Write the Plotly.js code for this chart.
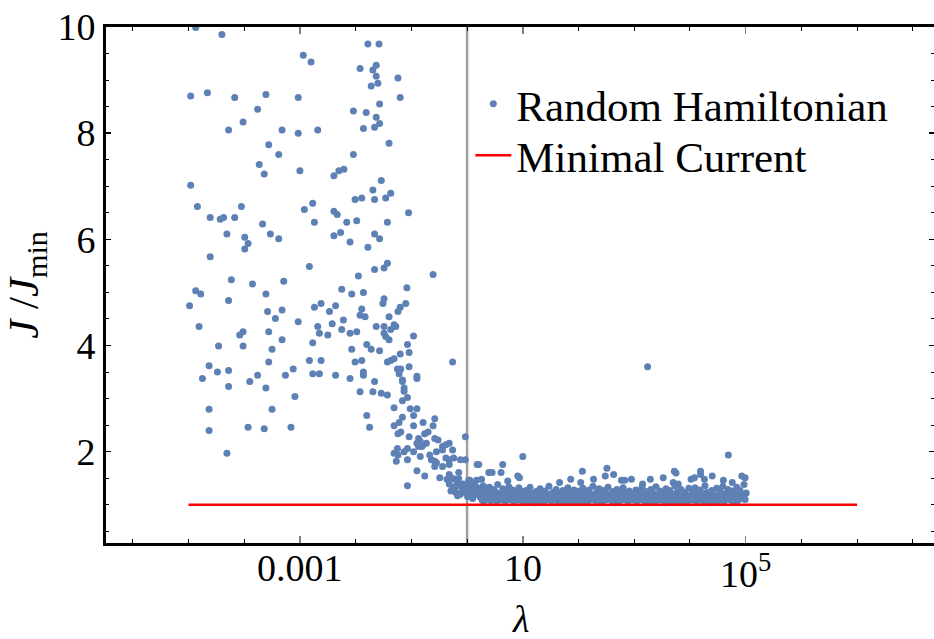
<!DOCTYPE html>
<html><head><meta charset="utf-8">
<script src="https://cdn.plot.ly/plotly-3.0.1.min.js"></script>
<style>html,body{margin:0;padding:0;background:#fff}#chart{width:934px;height:639px}</style>
</head><body><div id="chart"></div>
<script>
// ---- data (log10 of lambda, and J/Jmin) ----
const scatteredLog10Lambda = [-4.87,-4.40,-4.96,-4.66,-4.17,-3.61,-3.76,-4.02,-4.28,-3.32,-3.56,-3.38,-3.73,-3.64,-4.96,-4.84,-4.05,-4.61,-4.43,-4.37,-4.17,-3.67,-4.31,-3.53,-3.99,-3.38,-3.93,-3.99,
 -4.61,-4.23,-3.85,-3.29,-4.87,-4.78,-3.61,-4.28,-4.98,-3.58,-3.32,-3.44,-4.81,-4.02,-4.08,-3.56,-3.32,-4.46,-4.02,-3.50,-3.56,-4.63,-4.48,-4.28,-4.75,-3.76,-3.26,-3.90,-4.28,-3.61,-4.63,-3.50,-4.63,-3.93,-3.64,-3.16,-4.31];
const scatteredRatio = [9.99,9.86,8.70,8.76,8.67,8.73,8.45,8.21,8.06,8.06,7.78,7.60,7.41,7.23,7.02,6.62,6.62,6.41,6.38,6.41,6.41,6.29,6.10,6.10,6.04,6.01,5.92,5.82,
 5.67,5.24,5.16,5.21,5.03,4.97,4.97,4.85,4.75,4.64,4.67,4.51,4.36,4.26,4.20,4.26,4.11,3.99,3.99,3.93,3.69,3.62,3.50,3.53,3.38,3.44,3.44,3.32,3.23,3.20,2.80,2.80,2.40,2.46,2.43,2.46,1.97];

const midLog10Lambda = [-1.78,-1.58,-2.94,-2.80,-1.63,-1.69,-1.92,-1.63,-1.24,-1.60,-1.72,-3.03,-1.20,-2.04,-1.81,-1.57,-1.63,-1.57,-1.66,-1.86,-3.03,-2.68,-1.40,-2.04,-3.00,-2.39,-2.30,-2.21,-1.54,-1.69,-1.37,-2.01,-1.89,-1.66,-1.46,-2.77,-2.92,-2.39,-2.33,-2.74,-2.16,-1.98,-1.43,-2.27,-2.39,-1.66,-1.57,-2.10,-1.78,
 -1.05,-1.08,-0.61,
 -2.83,-1.43,-1.49,-1.66,-1.95,-2.25,-2.07,-1.86,-1.49,-1.51,-2.62,-2.74,-2.36,-2.47,-1.89,-1.92,-1.83,-1.20,-1.24,-1.40,-3.03,-2.22,-2.42,-2.68,-1.63,-1.49,-1.31,-1.28,-2.65,-2.50,-2.25,-2.10,-1.98,-1.37,-1.49,-1.46,-1.40,-2.77,-1.80,-2.07,-1.72,-1.57,-1.20,-2.83,-2.62,-1.89,-2.01,-1.43,-1.37,-1.31,-3.12,-2.77,-2.65,-2.36,-2.10,-1.86,-1.86,-1.25,-1.22,-1.66,-3.09,-1.92,-1.69,-1.54,-1.43,-1.31,-1.80,-1.75,-1.31,-1.22,-1.24,-1.25,-1.31,-1.24,-1.27];
const midRatio = [9.68,9.68,9.47,9.34,9.28,9.19,9.22,9.07,9.04,8.94,8.89,8.67,8.67,8.42,8.39,8.55,8.30,8.18,8.11,8.09,8.00,8.06,7.81,7.60,7.29,7.20,7.29,7.32,7.11,6.93,6.87,6.75,6.78,6.75,6.78,6.68,6.56,6.53,6.47,6.32,6.32,6.35,6.32,6.13,6.07,6.10,6.01,5.95,5.85,
 6.50,5.09,5.34,
 5.49,5.55,5.46,5.43,5.31,5.06,4.97,5.00,4.88,4.79,4.79,4.72,4.75,4.64,4.69,4.57,4.54,4.72,4.64,4.54,4.45,4.48,4.41,4.36,4.36,4.36,4.39,4.36,4.23,4.20,4.30,4.23,4.26,4.30,4.23,4.17,4.11,4.05,4.02,3.93,3.93,3.90,3.84,3.72,3.72,3.72,3.69,3.69,3.72,3.75,3.56,3.47,3.47,3.44,3.38,3.50,3.44,3.56,3.47,3.32,3.04,3.13,3.13,3.10,3.07,2.83,2.68,2.46,2.49,2.55,2.34,2.06,1.97,1.94,1.82];

const transitionLog10Lambda = [-1.10,-0.96,-1.07,-1.04,-0.26,-1.19,-1.04,-0.90,-0.90,-1.16,-1.16,-1.13,-1.13,-1.07,-1.16,-1.02,-0.90,-0.96,-1.16,-0.58,-0.79,-0.96,-0.61,-1.19,-0.70,-0.76,-1.04,-0.58,-0.52,-0.87,-0.84,-0.90,-0.79,-0.87,-0.81,-1.07,-0.73,-0.44,-0.38,-0.32,-1.13,-0.96,-0.67,-0.55,-0.44,-0.26,-0.03,-1.07,-0.84,-0.64,-0.58,-0.55,-0.38,-0.32,-0.24,-0.12,-0.03,-0.58,-0.44,-0.32,-0.90,-0.76,-0.15,-0.32,-0.29,-0.36,-0.49,-0.24,-1.07,-0.32,-0.26,-0.18,-0.12,-0.07,0.00,0.06,0.12,0.17,0.17,-0.29,-0.20,-0.12,-0.03,0.03,0.11,0.17,-0.15,0.03,
 -0.22,-0.08,0.08,0.14,-0.17,0.01,0.10];
const transitionRatio = [4.79,4.18,4.02,3.87,3.69,3.56,3.60,3.42,3.38,3.35,3.32,3.20,3.14,3.02,2.96,2.81,2.81,2.68,2.65,2.62,2.55,2.49,2.49,2.37,2.37,2.34,2.28,2.25,2.22,2.25,2.19,2.16,2.13,2.10,2.10,2.06,2.16,2.10,2.13,2.16,2.00,2.00,1.94,2.00,2.03,2.03,2.28,1.85,1.91,1.85,1.82,1.79,1.88,1.85,1.88,1.85,1.85,1.72,1.72,1.76,1.64,1.54,1.61,1.57,1.51,1.48,1.51,1.49,1.36,1.39,1.33,1.42,1.36,1.39,1.33,1.42,1.39,1.46,1.33,1.26,1.23,1.20,1.23,1.20,1.23,1.20,1.49,1.46,
 1.30,1.28,1.30,1.26,1.17,1.15,1.12];

const plateauHighLog10Lambda = [1.00,3.24,4.69,0.18,0.21,0.64,2.51,0.39,0.45,0.61,2.07,2.63,2.48,3.72,3.75,4.19,4.19,4.40,4.93,4.99,0.91,0.94,1.86,2.27,3.52,4.02,4.08,4.60,2.77,2.83,2.95,3.29,0.05,0.26,0.73,1.66,2.04,3.15,3.70,3.79,4.26,4.76];
const plateauHighRatio = [1.91,3.60,1.94,1.76,1.76,1.76,1.69,1.61,1.61,1.61,1.63,1.57,1.54,1.63,1.60,1.63,1.57,1.54,1.54,1.51,1.54,1.51,1.48,1.48,1.51,1.48,1.51,1.46,1.46,1.46,1.48,1.48,1.46,1.48,1.45,1.42,1.42,1.39,1.42,1.39,1.48,1.42];

const plateauLog10Lambda = [0.20,0.22,0.25,0.27,0.29,0.31,0.33,0.36,0.38,0.40,0.42,0.44,0.47,0.49,0.51,0.53,0.55,0.58,0.60,0.62,0.64,0.66,0.69,0.71,0.73,0.75,0.77,0.80,0.82,0.84,0.86,0.88,0.91,0.93,0.95,0.97,0.99,
 1.02,1.04,1.06,1.09,1.11,1.13,1.15,1.18,1.20,1.22,1.24,1.27,1.29,1.31,1.33,1.36,1.38,1.40,1.42,1.45,1.47,1.49,1.51,1.54,1.56,1.58,1.60,1.63,1.65,1.67,1.69,1.72,1.74,1.76,1.78,1.81,1.83,1.85,1.87,1.90,1.92,1.94,1.96,1.99,
 2.01,2.03,2.06,2.08,2.10,2.12,2.15,2.17,2.19,2.21,2.24,2.26,2.28,2.30,2.33,2.35,2.37,2.39,2.42,2.44,2.46,2.48,2.51,2.53,2.55,2.57,2.60,2.62,2.64,2.66,2.69,2.71,2.73,2.75,2.78,2.80,2.82,2.84,2.87,2.89,2.91,2.93,2.96,2.98,
 3.01,3.03,3.05,3.08,3.10,3.12,3.14,3.17,3.19,3.21,3.23,3.26,3.28,3.30,3.32,3.35,3.37,3.39,3.41,3.44,3.46,3.48,3.50,3.53,3.55,3.57,3.59,3.62,3.64,3.66,3.68,3.71,3.73,3.75,3.77,3.80,3.82,3.84,3.86,3.89,3.91,3.93,3.95,3.98,
 4.00,4.03,4.05,4.07,4.09,4.12,4.14,4.16,4.18,4.21,4.23,4.25,4.27,4.30,4.32,4.34,4.36,4.39,4.41,4.43,4.45,4.48,4.50,4.52,4.54,4.57,4.59,4.61,4.63,4.66,4.68,4.70,4.72,4.75,4.77,4.79,4.81,4.84,4.86,4.88,4.90,4.93,4.95,4.97,4.99,5.01];
const plateauRatio = [1.31,1.18,1.24,1.09,1.36,1.15,1.27,1.12,1.22,1.33,1.08,1.19,1.29,1.14,1.25,1.06,1.38,1.17,1.21,1.11,1.30,1.16,1.07,1.26,1.13,1.34,1.10,1.20,1.28,1.05,1.17,1.24,1.09,1.32,1.14,1.22,1.07,
 1.19,1.11,1.27,1.06,1.15,1.33,1.09,1.21,1.13,1.04,1.25,1.17,1.08,1.30,1.12,1.20,1.06,1.26,1.14,1.10,1.35,1.18,1.07,1.23,1.11,1.16,1.29,1.05,1.21,1.13,1.09,1.27,1.15,1.06,1.19,1.32,1.10,1.24,1.08,1.14,1.28,1.05,1.20,1.12,
 1.26,1.09,1.17,1.31,1.07,1.22,1.13,1.05,1.28,1.16,1.10,1.35,1.19,1.08,1.24,1.12,1.30,1.06,1.18,1.14,1.27,1.09,1.21,1.33,1.11,1.16,1.07,1.25,1.19,1.04,1.29,1.13,1.22,1.08,1.17,1.32,1.10,1.23,1.15,1.06,1.26,1.12,1.20,1.09,
 1.14,1.28,1.07,1.19,1.23,1.10,1.33,1.16,1.05,1.25,1.12,1.20,1.08,1.29,1.15,1.21,1.06,1.34,1.11,1.18,1.26,1.09,1.14,1.22,1.04,1.30,1.17,1.11,1.27,1.08,1.20,1.13,1.36,1.06,1.24,1.16,1.10,1.29,1.07,1.19,1.23,1.12,1.05,1.31,
 1.17,1.09,1.25,1.13,1.32,1.06,1.21,1.15,1.28,1.10,1.19,1.07,1.36,1.23,1.12,1.16,1.04,1.27,1.20,1.09,1.14,1.31,1.18,1.08,1.24,1.11,1.35,1.06,1.21,1.15,1.29,1.10,1.17,1.26,1.05,1.22,1.13,1.33,1.08,1.19,1.27,1.12,1.16,1.38,1.10,1.22];

const plateauBLog10Lambda = [0.13,0.24,0.35,0.46,0.57,0.68,0.79,0.90,1.01,1.12,1.23,1.34,1.45,1.56,1.67,1.78,1.89,2.00,2.11,2.22,2.33,2.44,2.55,2.66,2.77,2.88,2.99,3.10,3.21,3.32,3.43,3.54,3.65,3.76,3.87,3.98,4.09,4.20,4.31,4.42,4.53,4.64,4.75,4.86,4.97];
const plateauBRatio = [1.21,1.14,1.10,1.23,1.12,1.19,1.25,1.13,1.08,1.22,1.15,1.11,1.20,1.24,1.09,1.13,1.17,1.06,1.14,1.20,1.11,1.07,1.17,1.12,1.24,1.10,1.15,1.13,1.18,1.23,1.09,1.16,1.06,1.20,1.14,1.11,1.18,1.23,1.08,1.15,1.11,1.19,1.13,1.09,1.16];

const plateauCLog10Lambda = [0.09,0.19,0.30,0.41,0.52,0.63,0.74,0.85,0.96,1.07,1.18,1.29,1.40,1.51,1.62,1.73,1.84,1.95,2.06,2.17,2.28,2.39,2.50,2.61,2.72,2.83,2.94,3.05,3.16,3.27,3.38,3.49,3.60,3.71,3.82,3.93,4.04,4.15,4.26,4.37,4.48,4.59,4.70,4.81,4.92];
const plateauCRatio = [1.16,1.28,1.06,1.17,1.20,1.09,1.14,1.18,1.26,1.10,1.07,1.19,1.12,1.08,1.17,1.21,1.06,1.14,1.19,1.09,1.15,1.22,1.10,1.18,1.07,1.13,1.21,1.09,1.12,1.07,1.16,1.10,1.19,1.09,1.05,1.17,1.12,1.08,1.14,1.19,1.06,1.11,1.16,1.20,1.12];

const minimalCurrentLambda = [1e-5, 1e7];
const minimalCurrentRatio = [1, 1];
const thresholdLambda = [1, 1];
const thresholdRatio = [0.28, 10];

const xTickVals = [0.001, 10, 1e5];
const xTickText = ['0.001', '10', '10<sup>5</sup>'];
const xMinorTickVals = [1e-6,1e-5,1e-4,1e-3,1e-2,1e-1,1,10,100,1e3,1e4,1e5,1e6,1e7,1e8];
const yTickVals = [2, 4, 6, 8, 10];
const yTickText = ['2', '4', '6', '8', '10'];
const yMinorTickVals = [0.5,1,1.5,2,2.5,3,3.5,4,4.5,5,5.5,6,6.5,7,7.5,8,8.5,9,9.5,10];

// ---- build ----
const allLog = [].concat(scatteredLog10Lambda, midLog10Lambda, transitionLog10Lambda, plateauHighLog10Lambda, plateauLog10Lambda, plateauBLog10Lambda, plateauCLog10Lambda);
const allRatio = [].concat(scatteredRatio, midRatio, transitionRatio, plateauHighRatio, plateauRatio, plateauBRatio, plateauCRatio);
const lambda = allLog.map(v => Math.pow(10, v));

const FONT = '"Liberation Serif", "Times New Roman", serif';
const legendFont = { family: FONT, size: 43, color: '#000' };
const tickFont = { family: FONT, size: 38, color: '#000' };

const traces = [
  { x: thresholdLambda, y: thresholdRatio, mode: 'lines', line: { color: '#a0a0a0', width: 2.5 }, showlegend: false, hoverinfo: 'skip' },
  { x: lambda, y: allRatio, mode: 'markers', name: 'Random Hamiltonian', legend: 'legend', marker: { color: '#5E81B5', size: 7 } },
  { x: minimalCurrentLambda, y: minimalCurrentRatio, mode: 'lines', name: 'Minimal Current', legend: 'legend2', line: { color: '#FF0000', width: 2.5 } }
];

// x tick labels placed on the x scale (log axis: annotation x is log10 of the value)
const xTickLabels = xTickVals.map((v, i) => ({
  text: xTickText[i], xref: 'x', yref: 'paper', x: Math.log10(v), y: 0,
  xanchor: 'center', yanchor: 'top', yshift: -3, showarrow: false, borderpad: 0, font: tickFont
}));

const layout = {
  width: 934, height: 639,
  margin: { l: 106, r: 0, t: 27, b: 96 },
  paper_bgcolor: '#fff', plot_bgcolor: '#fff',
  font: { family: FONT, color: '#000' },
  showlegend: true,
  legend: { x: 0.44, y: 0.918, xanchor: 'left', yanchor: 'top', bgcolor: 'rgba(0,0,0,0)', font: legendFont, itemwidth: 36 },
  legend2: { x: 0.44, y: 0.818, xanchor: 'left', yanchor: 'top', bgcolor: 'rgba(0,0,0,0)', font: legendFont, itemwidth: 36 },
  xaxis: {
    type: 'log', range: [-6.48, 8.38],
    showline: true, linecolor: '#000', linewidth: 3, mirror: 'allticks',
    ticks: 'inside', ticklen: 7, tickwidth: 1.5, tickcolor: '#808080',
    tickmode: 'array', tickvals: xTickVals, ticktext: xTickText, showticklabels: false,
    minor: { tickmode: 'array', tickvals: xMinorTickVals, ticks: 'inside', ticklen: 4, tickwidth: 1, tickcolor: '#000', showgrid: false },
    showgrid: false, zeroline: false
  },
  yaxis: {
    range: [0.28, 10],
    showline: true, linecolor: '#000', linewidth: 3, mirror: 'ticks',
    ticks: 'inside', ticklen: 5, tickwidth: 1.5, tickcolor: '#000',
    tickmode: 'array', tickvals: yTickVals, ticktext: yTickText,
    tickfont: tickFont,
    minor: { tickmode: 'array', tickvals: yMinorTickVals, ticks: 'inside', ticklen: 3, tickwidth: 1, tickcolor: '#000', showgrid: false },
    showgrid: false, zeroline: false,
    title: { text: '<i>J</i> /<i>J</i><sub>min</sub>', font: { family: FONT, size: 43, color: '#000' }, standoff: 12 }
  },
  annotations: xTickLabels.concat([
    { text: '<i>λ</i>', xref: 'paper', yref: 'paper', x: 0.5, y: 0, xanchor: 'center', yanchor: 'middle', yshift: -76, showarrow: false, borderpad: 0, font: { family: FONT, size: 38, color: '#000' } }
  ])
};

Plotly.newPlot('chart', traces, layout, { displayModeBar: false, staticPlot: true });
</script>
</body></html>
